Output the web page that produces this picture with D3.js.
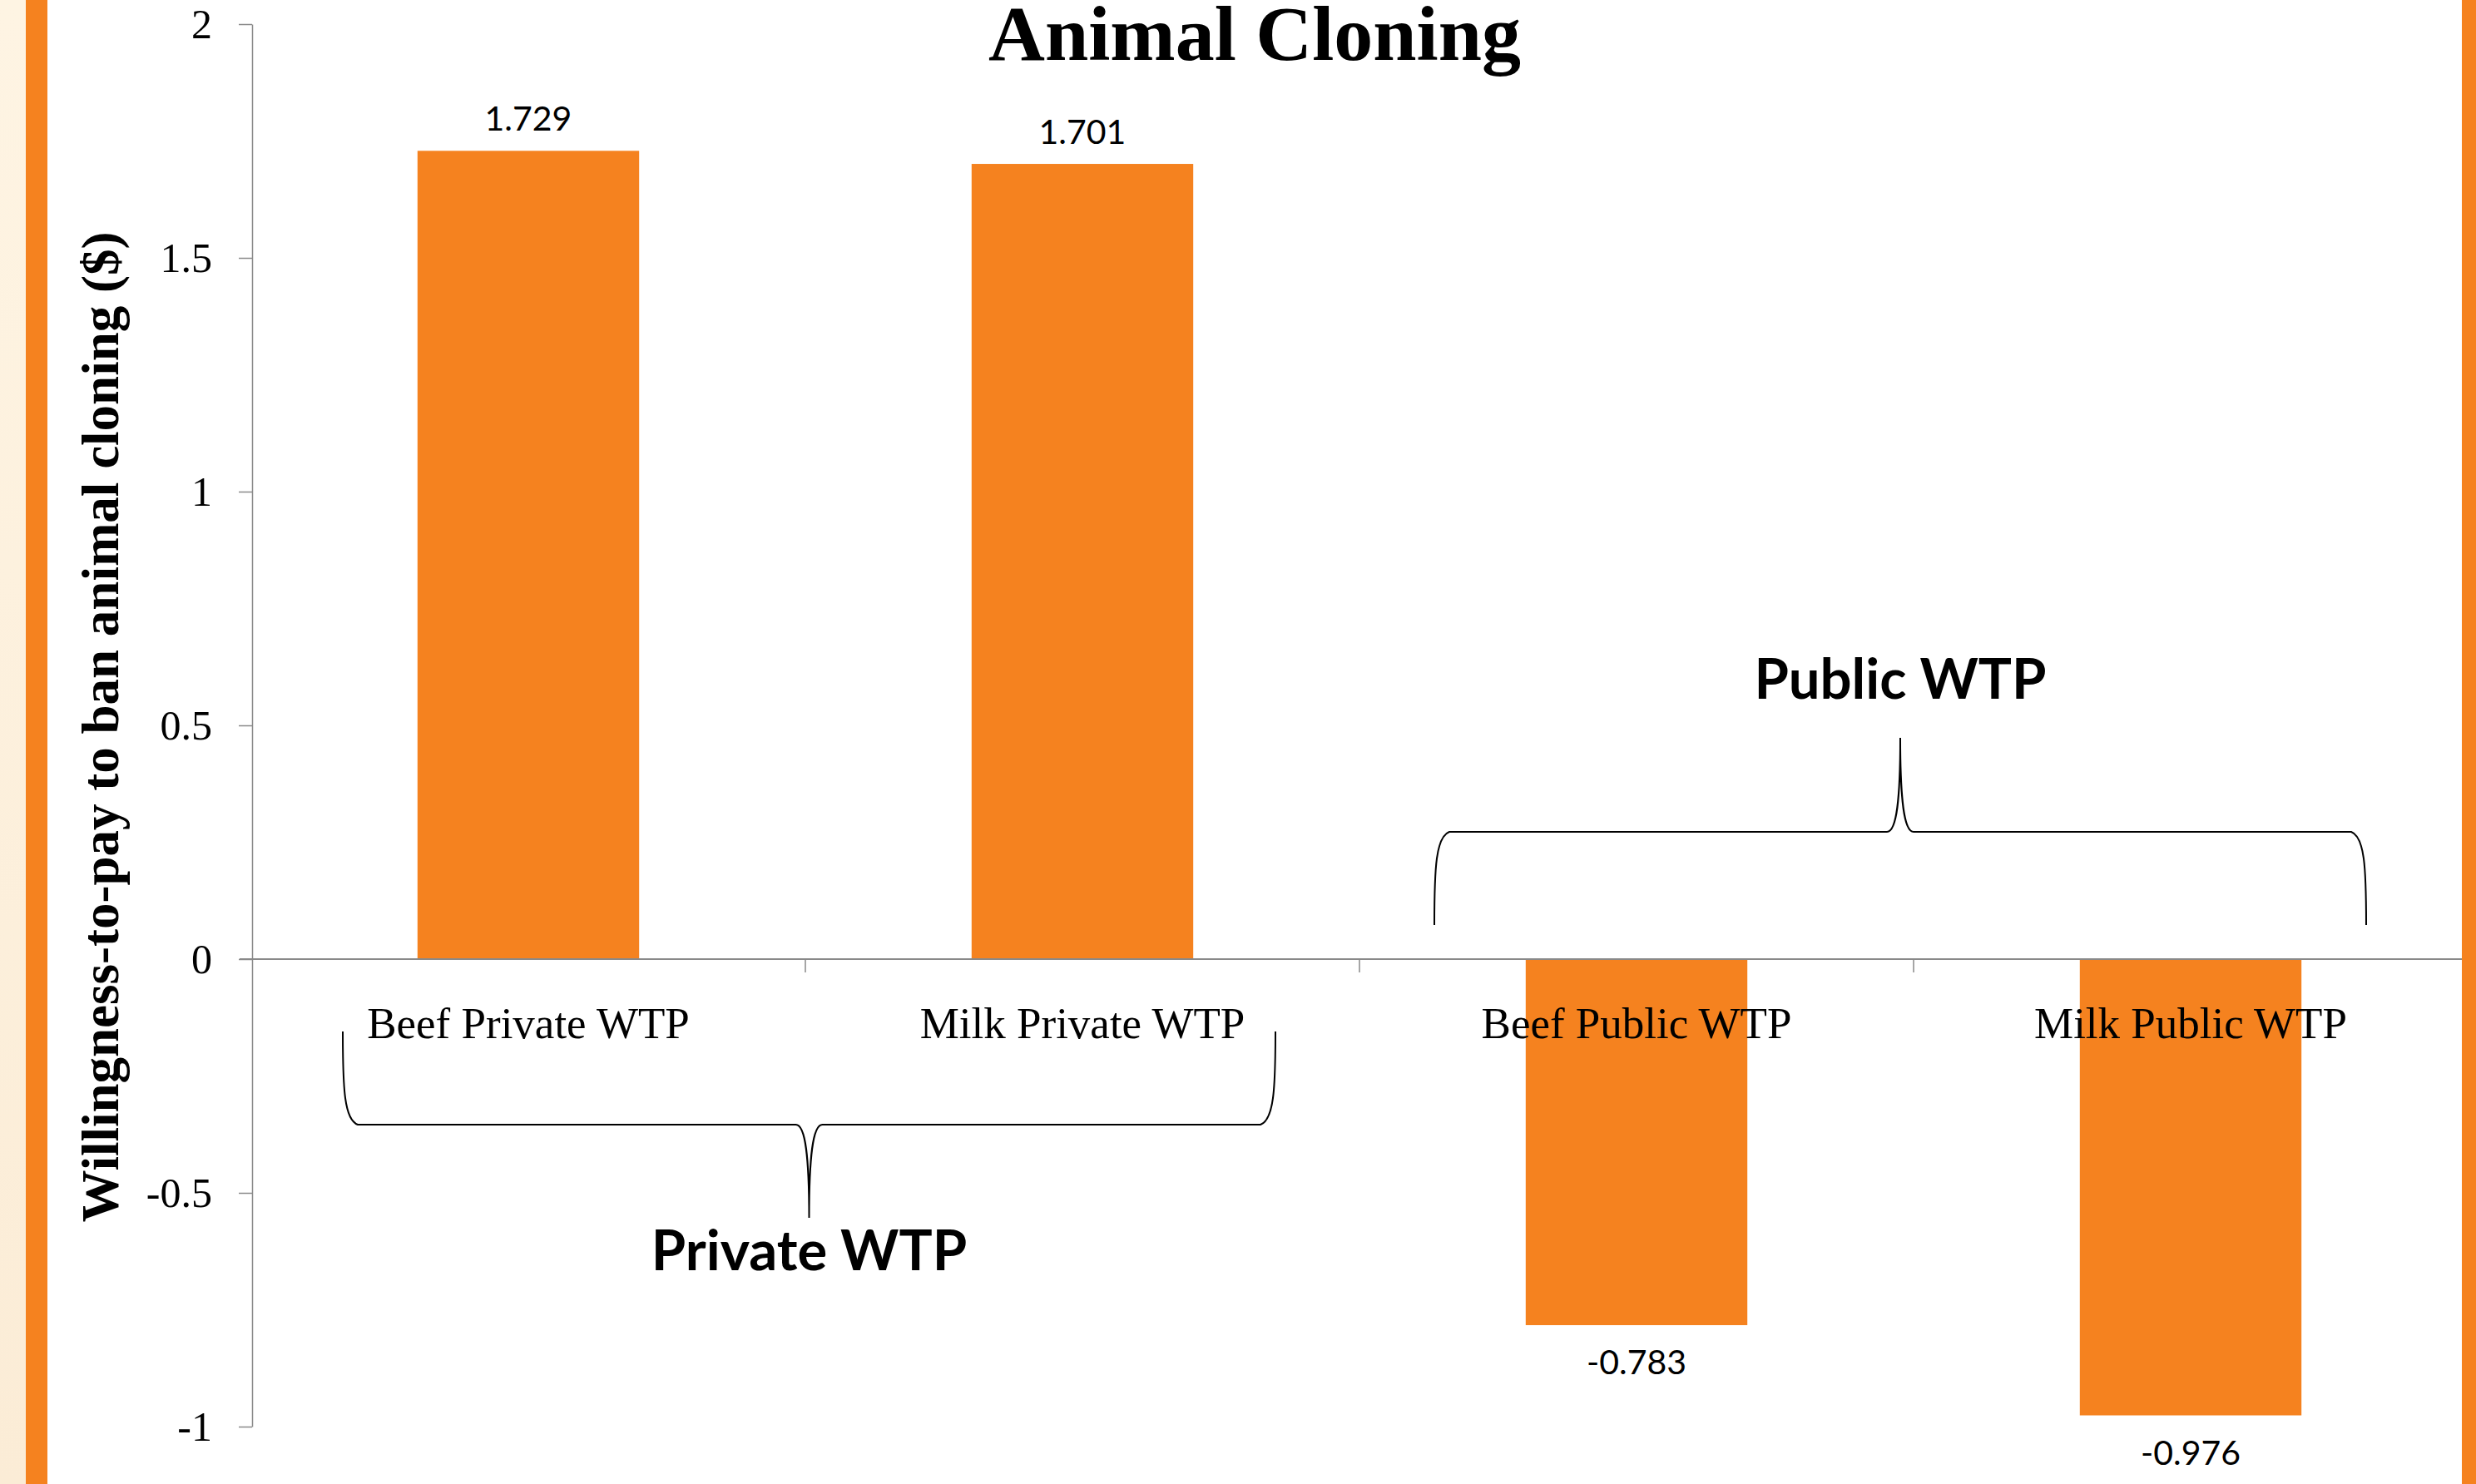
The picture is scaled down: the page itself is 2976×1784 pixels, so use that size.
<!DOCTYPE html>
<html>
<head>
<meta charset="utf-8">
<script src="https://cdn.jsdelivr.net/npm/d3@7"></script>
<style>
  body { margin: 0; background: #fff; }
</style>
</head>
<body>
<div id="chart"></div>
<script>
// Chart data
var categories = ["Beef Private WTP", "Milk Private WTP", "Beef Public WTP", "Milk Public WTP"];
var values = [1.729, 1.701, -0.783, -0.976];
var valueLabels = ["1.729", "1.701", "-0.783", "-0.976"];
var yTicks = [-1, -0.5, 0, 0.5, 1, 1.5, 2];
var yTickLabels = ["-1", "-0.5", "0", "0.5", "1", "1.5", "2"];
var groupNames = ["Private WTP", "Public WTP"];

var svgWidth = 2976;
var svgHeight = 1784;
var orange = "#f5821f";

var svg = d3.select("#chart")
  .append("svg")
  .attr("width", svgWidth)
  .attr("height", svgHeight);

// slide background: cream strip + orange borders
var grad = svg.append("defs").append("linearGradient")
  .attr("id", "cream")
  .attr("x1", 0).attr("y1", 0).attr("x2", 0).attr("y2", 1);
grad.append("stop").attr("offset", "0%").attr("stop-color", "#fef4e3");
grad.append("stop").attr("offset", "100%").attr("stop-color", "#fbecd6");

svg.append("rect").attr("x", 0).attr("y", 0).attr("width", 31).attr("height", svgHeight)
  .attr("fill", "url(#cream)");

// scales
var x = d3.scaleBand()
  .domain(categories)
  .range([302, 2966])
  .paddingInner(0.6)
  .paddingOuter(0.3);

var y = d3.scaleLinear()
  .domain([-1, 2])
  .range([1715, 29]);

// y axis
var leftAxis = d3.axisLeft(y)
  .tickValues(yTicks)
  .tickSize(16)
  .tickSizeOuter(0)
  .tickPadding(32)
  .tickFormat(function (d, i) { return yTickLabels[i]; });

var yAxisG = svg.append("g")
  .attr("transform", "translate(303,0)")
  .call(leftAxis);

yAxisG.select(".domain").attr("stroke", "#898989").attr("stroke-width", 1.5);
yAxisG.selectAll(".tick line").attr("stroke", "#898989").attr("stroke-width", 1.5);
yAxisG.selectAll(".tick text")
  .attr("fill", "#000")
  .style("font-family", "'Liberation Serif', 'Times New Roman', serif")
  .style("font-size", "50px");

// bars
svg.selectAll("rect.bar")
  .data(values)
  .enter()
  .append("rect")
  .attr("class", "bar")
  .attr("x", function (d, i) { return x(categories[i]); })
  .attr("y", function (d) { return y(Math.max(0, d)); })
  .attr("width", x.bandwidth())
  .attr("height", function (d) { return Math.abs(y(d) - y(0)); })
  .attr("fill", orange);

// zero line (category axis) with ticks between categories
svg.append("line")
  .attr("x1", 288).attr("x2", 2966)
  .attr("y1", y(0)).attr("y2", y(0))
  .attr("stroke", "#898989").attr("stroke-width", 2);

var gap = (x.step() - x.bandwidth()) / 2;
svg.selectAll("line.xtick")
  .data(categories.slice(1))
  .enter()
  .append("line")
  .attr("class", "xtick")
  .attr("x1", function (d) { return x(d) - gap; })
  .attr("x2", function (d) { return x(d) - gap; })
  .attr("y1", y(0))
  .attr("y2", y(0) + 16)
  .attr("stroke", "#898989").attr("stroke-width", 1.5);

// category labels
svg.selectAll("text.cat")
  .data(categories)
  .enter()
  .append("text")
  .attr("class", "cat")
  .attr("x", function (d) { return x(d) + x.bandwidth() / 2; })
  .attr("y", 1248)
  .attr("text-anchor", "middle")
  .style("font-family", "'Liberation Serif', 'Times New Roman', serif")
  .style("font-size", "53px")
  .text(function (d) { return d; });

// value labels
svg.selectAll("text.val")
  .data(values)
  .enter()
  .append("text")
  .attr("class", "val")
  .attr("x", function (d, i) { return x(categories[i]) + x.bandwidth() / 2; })
  .attr("y", function (d) { return d >= 0 ? y(d) - 24 : y(d) + 59; })
  .attr("text-anchor", "middle")
  .style("font-family", "Lato, 'Open Sans', sans-serif")
  .style("font-size", "41px")
  .text(function (d, i) { return valueLabels[i]; });

// braces
function brace(left, right, base, line, tip) {
  var c = (left + right) / 2;
  var dir = line > base ? 1 : -1;
  var p = d3.path();
  p.moveTo(left, base);
  p.bezierCurveTo(left, base + dir * 70, left + 2, line - dir * 6, left + 18, line);
  p.lineTo(c - 16, line);
  p.bezierCurveTo(c - 4, line, c, line + dir * 40, c, tip);
  p.bezierCurveTo(c, line + dir * 40, c + 4, line, c + 16, line);
  p.lineTo(right - 18, line);
  p.bezierCurveTo(right - 2, line - dir * 6, right, base + dir * 70, right, base);
  return p.toString();
}

// Private group: brace under the first two categories, opening upward
var privL = x(categories[0]) - gap + 110;
var privR = x(categories[1]) + x.bandwidth() + gap - 101;
svg.append("path")
  .attr("d", brace(privL, privR, 1240, 1352, 1464))
  .attr("fill", "none").attr("stroke", "#000").attr("stroke-width", 2);

// Public group: brace above the last two categories, opening downward
var pubL = x(categories[2]) - gap + 90;
var pubR = x(categories[3]) + x.bandwidth() + gap - 122;
svg.append("path")
  .attr("d", brace(pubL, pubR, 1112, 1000, 887))
  .attr("fill", "none").attr("stroke", "#000").attr("stroke-width", 2);

svg.append("text")
  .attr("x", (privL + privR) / 2)
  .attr("y", 1527)
  .attr("text-anchor", "middle")
  .style("font-family", "Lato, 'Open Sans', sans-serif")
  .style("font-weight", "bold")
  .style("font-size", "67px")
  .text(groupNames[0]);

svg.append("text")
  .attr("x", (pubL + pubR) / 2)
  .attr("y", 840)
  .attr("text-anchor", "middle")
  .style("font-family", "Lato, 'Open Sans', sans-serif")
  .style("font-weight", "bold")
  .style("font-size", "67px")
  .text(groupNames[1]);

// y axis title
svg.append("text")
  .attr("transform", "translate(142,874) rotate(-90)")
  .attr("text-anchor", "middle")
  .style("font-family", "'Liberation Serif', 'Times New Roman', serif")
  .style("font-weight", "bold")
  .style("font-size", "63px")
  .text("Willingness-to-pay to ban animal cloning ($)");

// chart title
svg.append("text")
  .attr("x", 1508)
  .attr("y", 72)
  .attr("text-anchor", "middle")
  .style("font-family", "'Liberation Serif', 'Times New Roman', serif")
  .style("font-weight", "bold")
  .style("font-size", "94px")
  .text("Animal Cloning");

// orange slide borders on top
svg.append("rect").attr("x", 31).attr("y", 0).attr("width", 26).attr("height", svgHeight).attr("fill", orange);
svg.append("rect").attr("x", 2959).attr("y", 0).attr("width", 17).attr("height", svgHeight).attr("fill", orange);
</script>
</body>
</html>
